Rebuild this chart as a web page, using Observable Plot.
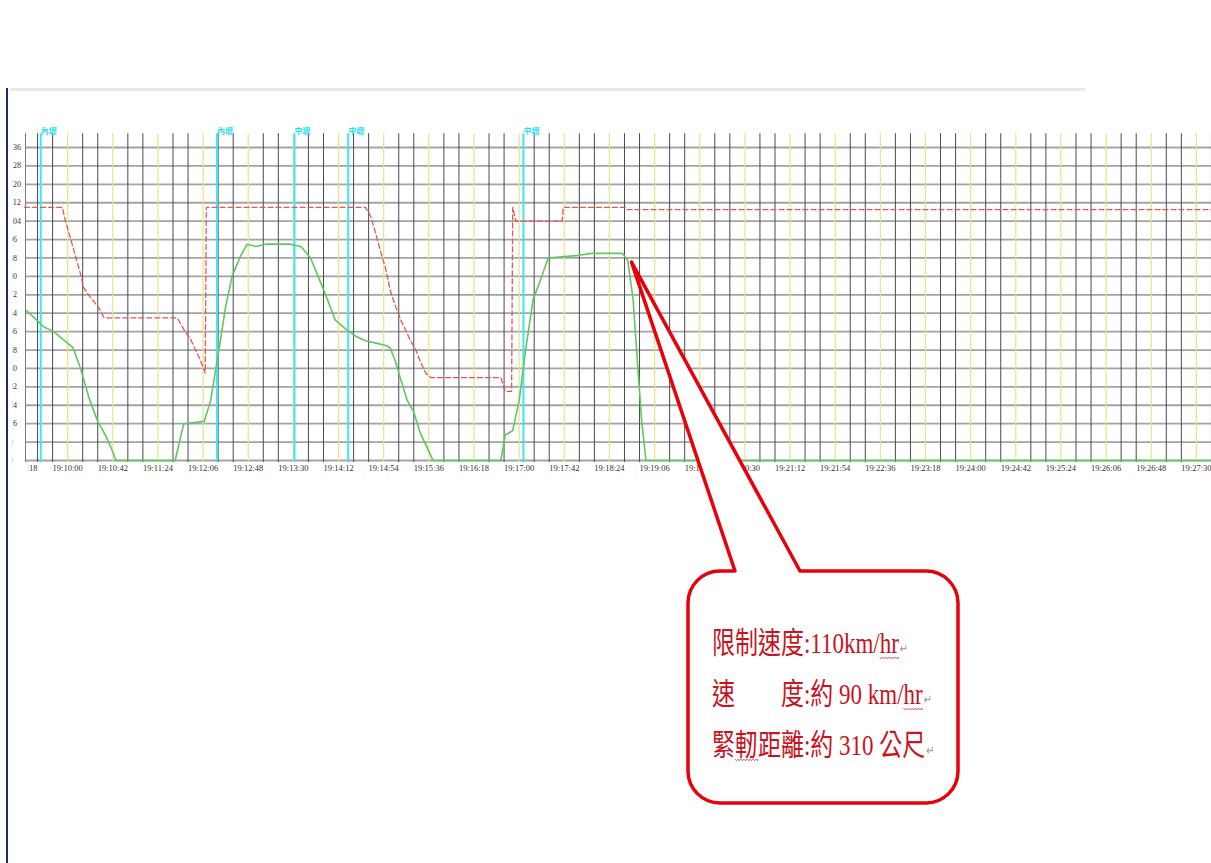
<!DOCTYPE html>
<html><head><meta charset="utf-8">
<script src="https://cdn.jsdelivr.net/npm/d3@7"></script>
<script src="https://cdn.jsdelivr.net/npm/@observablehq/plot@0.6"></script>
<style>
body{margin:0;background:#fff;}
#chart{position:relative;width:1211px;height:863px;overflow:hidden;}
</style>
</head><body><div id="chart"></div>
<script>
// ---- data ----
const limitTimes = ["19:09:20","19:09:55","19:09:58","19:10:03","19:10:06","19:10:12","19:10:15","19:10:21","19:10:28","19:10:34","19:11:42","19:11:48","19:11:54","19:11:59","19:12:04","19:12:08","19:12:09","19:14:37","19:14:42","19:14:47","19:14:51","19:14:56","19:15:00","19:15:05","19:15:10","19:15:14","19:15:19","19:15:24","19:15:28","19:15:33","19:15:38","19:16:43","19:16:47","19:16:53","19:16:54","19:16:57","19:17:40","19:17:41","19:18:39","19:18:40","19:27:45"];
const limitValues = [110,110,104,96,91,81,75,71,67,62,62,57,53,48,43,38,110,110,106,98,91,83,74,67,61,57,52,48,43,38,36,36,30,30,110,104,104,110,110,109,109];

const speedTimes = ["19:09:22","19:09:38","19:09:47","19:10:05","19:10:12","19:10:20","19:10:28","19:10:34","19:10:40","19:10:45","19:11:40","19:11:48","19:12:07","19:12:13","19:12:20","19:12:27","19:12:33","19:12:41","19:12:47","19:12:55","19:13:04","19:13:13","19:13:27","19:13:37","19:13:46","19:13:53","19:14:00","19:14:09","19:14:19","19:14:28","19:14:37","19:14:47","19:14:56","19:15:00","19:15:05","19:15:10","19:15:16","19:15:22","19:15:28","19:15:36","19:15:40","19:16:43","19:16:47","19:16:54","19:17:00","19:17:06","19:17:13","19:17:18","19:17:27","19:17:53","19:18:07","19:18:36","19:18:41","19:18:46","19:18:50","19:18:54","19:18:58","19:27:45"];
const speedValues = [65,58,56,49,40,27,17,12,6,0,0,16,17,26,46,67,80,89,94,93,94,94,94,93,88,80,72,61,57,54,52,51,50,49,43,35,26,21,12,4,0,0,11,13,26,48,70,76,88,89,90,90,87,70,43,17,0,0];

const stationTimes = ["19:09:35","19:12:19","19:13:31","19:14:21","19:17:04"];
const stationNames = ["內壢","內壢","中壢","中壢","中壢"];

const yTicks = [0,8,16,24,32,40,48,56,64,72,80,88,96,104,112,120,128,136];
const xTickLabels = ["19:09:18","19:10:00","19:10:42","19:11:24","19:12:06","19:12:48","19:13:30","19:14:12","19:14:54","19:15:36","19:16:18","19:17:00","19:17:42","19:18:24","19:19:06","19:19:48","19:20:30","19:21:12","19:21:54","19:22:36","19:23:18","19:24:00","19:24:42","19:25:24","19:26:06","19:26:48","19:27:30"];

const calloutLines = ["限制速度:110km/hr","速\u3000\u3000度:約 90 km/hr","緊軔距離:約 310 公尺"];
const calloutUnderlined = ["hr","hr","軔"];
const calloutTipTime = "19:18:45";
const calloutTipValue = 86;

// ---- helpers ----
const toSec = s => { const [h,m,ss] = s.split(":").map(Number); return (h-19)*3600 + m*60 + ss; };
const limit = limitTimes.map((t,i) => ({t: toSec(t), v: limitValues[i]}));
const speed = speedTimes.map((t,i) => ({t: toSec(t), v: speedValues[i]}));
const stations = stationTimes.map((t,i) => ({t: toSec(t), name: stationNames[i]}));
const majorSecs = xTickLabels.map(toSec);
const x0 = 560.8, pxPerSec = 1.075, mLeft = 25, W = 1211;
const x1 = x0 + (W - mLeft) / pxPerSec;
const minorSecs = d3.range(majorSecs[0], x1, 14).filter(s => !majorSecs.includes(s) && s > x0);

const chart = Plot.plot({
  width: W, height: 863,
  marginLeft: mLeft, marginRight: 0, marginTop: 147, marginBottom: 403,
  style: {fontFamily: "'Liberation Serif', serif", background: "transparent"},
  x: {domain: [x0, x1], axis: null},
  y: {domain: [0, 136], axis: null},
  marks: [
    Plot.ruleY(yTicks, {stroke: "#a3a3a3", strokeWidth: 1.8}),
    Plot.ruleX(minorSecs, {y1: -0.9, y2: 142, stroke: "#4a4a4a", strokeWidth: 1}),
    Plot.ruleX(majorSecs.filter(s => s > x0), {y1: -0.9, y2: 142, stroke: "#e4e48c", strokeWidth: 1.2}),
    Plot.ruleX([x0], {y1: -0.9, y2: 142, stroke: "#777", strokeWidth: 1}),
    Plot.ruleX(stations, {x: "t", y1: -0.9, y2: 142, stroke: "#3ee6f2", strokeWidth: 2}),
    Plot.text(stations, {x: "t", y: 142, text: "name", fill: "#2fe0f0", fontSize: 8, textAnchor: "start", dx: 0, dy: -2, fontFamily: "'Noto Sans CJK TC', sans-serif", fontWeight: "bold"}),
    Plot.line(speed, {x: "t", y: "v", stroke: "#5fc85f", strokeWidth: 1.6}),
    Plot.line(limit, {x: "t", y: "v", stroke: "#ea5454", strokeWidth: 1.3, strokeDasharray: "5,3"}),
    Plot.text(yTicks, {x: x0, y: d => d, text: d => String(d), textAnchor: "start", dx: -16.5, fontSize: 8, fill: "#333"}),
    Plot.text(xTickLabels, {x: d => toSec(d), y: 0, dy: 7.5, text: d => d, fontSize: 8.5, fill: "#333"})
  ]
});
document.getElementById("chart").appendChild(chart);

// ---- frame of the pasted screenshot and the callout ----
const svg = d3.select(chart);
svg.append("rect").attr("x", 0).attr("y", 120).attr("width", 12.6).attr("height", 345).attr("fill", "#fff");
svg.append("rect").attr("x", 0).attr("y", 462.5).attr("width", 28.3).attr("height", 14).attr("fill", "#fff");
svg.append("rect").attr("x", 10).attr("y", 88).attr("width", 1075).attr("height", 3).attr("fill", "#e9e9e9");
svg.append("line").attr("x1", 7).attr("x2", 7).attr("y1", 88).attr("y2", 863).attr("stroke", "#1d2b6b").attr("stroke-width", 2);

const xs = chart.scale("x"), ys = chart.scale("y");
const tipX = xs.apply(toSec(calloutTipTime)), tipY = ys.apply(calloutTipValue);
const L = 688, R = 958, T = 571, B = 803, r = 32, b1 = 735, b2 = 800;
const p = `M${L+r},${T} L${b1},${T} L${tipX},${tipY} L${b2},${T} L${R-r},${T} A${r},${r} 0 0 1 ${R},${T+r} L${R},${B-r} A${r},${r} 0 0 1 ${R-r},${B} L${L+r},${B} A${r},${r} 0 0 1 ${L},${B-r} L${L},${T+r} A${r},${r} 0 0 1 ${L+r},${T} Z`;
svg.append("path").attr("d", p).attr("fill", "#fff").attr("stroke", "#e8000a").attr("stroke-width", 3.5).attr("stroke-linejoin", "round");

const baselines = [653, 704, 755];
calloutLines.forEach((line, i) => {
  const g = svg.append("g").attr("transform", `translate(712,${baselines[i]}) scale(1,1.3)`);
  const t = g.append("text").attr("x", 0).attr("y", 0).attr("text-anchor", "start")
    .attr("font-family", "'Liberation Serif', 'Noto Sans CJK TC', serif")
    .attr("font-size", 23).attr("fill", "#c8141e");
  t.append("tspan").text(line);
  t.append("tspan").attr("font-family", "'DejaVu Sans'").attr("font-size", 10).attr("fill", "#999").attr("dx", 1).text("↵");
  // wavy spell-check underline
  const u = calloutUnderlined[i];
  const idx = line.lastIndexOf(u);
  const node = t.node();
  const xa = node.getSubStringLength(0, idx);
  const xb = xa + node.getSubStringLength(idx, u.length);
  let d = `M${xa},3.2`;
  for (let xx = xa, k = 0; xx < xb; xx += 1.5, k++) d += ` L${Math.min(xx + 1.5, xb)},${k % 2 ? 3.2 : 4.4}`;
  g.append("path").attr("d", d).attr("fill", "none").attr("stroke", "#d02020").attr("stroke-width", 0.7);
});
</script>
</body></html>
